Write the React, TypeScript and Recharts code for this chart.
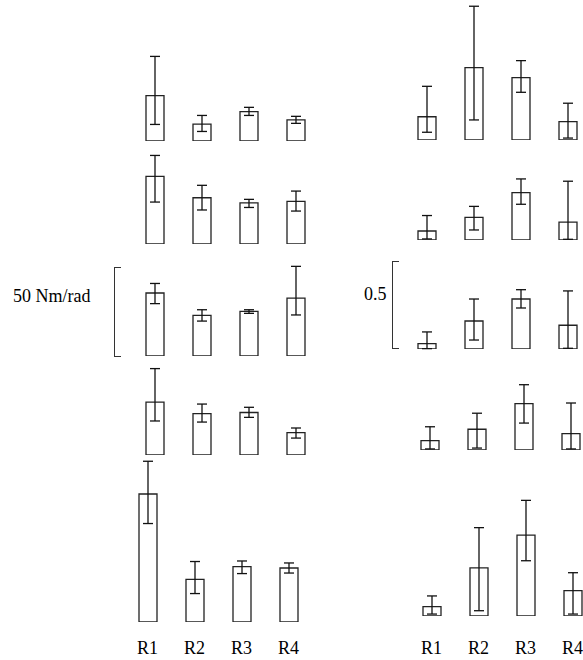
import React from 'react'
import { BarChart, Bar, XAxis, YAxis, ErrorBar } from 'recharts'

const categories = ['R1', 'R2', 'R3', 'R4']

// left panel: stiffness in Nm/rad, rows top to bottom
const leftMean = [
  [25.2, 9.4, 16.3, 11.7],
  [37.6, 25.7, 22.8, 23.7],
  [35.0, 22.6, 24.8, 32.2],
  [29.4, 23.0, 23.6, 12.4],
  [71.1, 23.7, 30.8, 30.0],
]
const leftLow = [
  [9.2, 5.3, 14.2, 9.8],
  [23.3, 18.9, 20.3, 18.3],
  [29.1, 19.4, 23.7, 22.8],
  [18.9, 18.3, 20.9, 9.4],
  [54.7, 15.8, 26.9, 27.2],
]
const leftHigh = [
  [47.0, 14.2, 18.7, 13.7],
  [49.2, 32.6, 24.8, 29.4],
  [40.3, 25.7, 25.7, 49.8],
  [48.0, 28.3, 26.5, 15.0],
  [89.3, 33.6, 33.9, 32.8],
]

// right panel: dimensionless, rows top to bottom
const rightMean = [
  [0.132, 0.411, 0.354, 0.104],
  [0.051, 0.129, 0.269, 0.101],
  [0.030, 0.159, 0.284, 0.135],
  [0.053, 0.118, 0.263, 0.093],
  [0.053, 0.274, 0.459, 0.144],
]
const rightLow = [
  [0.044, 0.114, 0.271, 0.011],
  [0.006, 0.057, 0.203, 0.004],
  [0.002, 0.051, 0.233, 0.004],
  [0.006, 0.011, 0.153, 0.006],
  [0.011, 0.030, 0.314, 0.011],
]
const rightHigh = [
  [0.305, 0.760, 0.451, 0.209],
  [0.139, 0.191, 0.347, 0.334],
  [0.097, 0.284, 0.337, 0.330],
  [0.132, 0.209, 0.371, 0.267],
  [0.114, 0.502, 0.657, 0.246],
]

const leftScaleValue = 50
const rightScaleValue = 0.5

// layout
const PLOT_H = 170
const AXIS_H = 60
const CHART_W = 188
const LEFT_PX = 1.8 // px per Nm/rad
const RIGHT_PX = 176 // px per unit
const leftBaselines = [141, 244, 356, 455, 622]
const leftX = [131, 131, 131, 131, 124]
const rightBaselines = [140, 240, 349, 450, 616]
const rightX = [402.5, 402.5, 402.5, 406, 408]

const FONT = '"Liberation Serif", "Times New Roman", serif'

function rowData(mean: number[], low: number[], high: number[]) {
  return categories.map((name, i) => ({
    name,
    value: mean[i],
    err: [mean[i] - low[i], high[i] - mean[i]],
  }))
}

function SmallBars({ data, left, baseline, pxPerUnit, showTicks, tickMargin }: any) {
  return (
    <div style={{ position: 'absolute', left, top: baseline - PLOT_H }}>
      <BarChart width={CHART_W} height={PLOT_H + AXIS_H} data={data} margin={{ top: 0, right: 0, bottom: 0, left: 0 }}>
        <XAxis
          dataKey="name"
          axisLine={false}
          tickLine={false}
          height={AXIS_H}
          interval={0}
          tickMargin={tickMargin}
          tick={showTicks ? { fontSize: 18, fill: '#000', fontFamily: FONT } : false}
        />
        <YAxis hide domain={[0, PLOT_H / pxPerUnit]} allowDataOverflow />
        <Bar dataKey="value" fill="#fff" stroke="#222" strokeWidth={1.3} barSize={18} isAnimationActive={false}>
          <ErrorBar dataKey="err" width={5} stroke="#111" strokeWidth={1.3} isAnimationActive={false} />
        </Bar>
      </BarChart>
    </div>
  )
}

function Bracket({ left, baseline, height }: any) {
  return (
    <div
      style={{
        position: 'absolute',
        left,
        top: baseline - height,
        width: 7,
        height,
        borderLeft: '1.3px solid #333',
        borderTop: '1.3px solid #333',
        borderBottom: '1.3px solid #333',
        boxSizing: 'border-box',
      }}
    />
  )
}

export default function App() {
  return (
    <div style={{ position: 'fixed', left: 0, top: 0, width: 583, height: 660, background: '#fff', fontFamily: FONT, overflow: 'hidden' }}>
      {leftMean.map((m, r) => (
        <SmallBars
          key={'l' + r}
          data={rowData(m, leftLow[r], leftHigh[r])}
          left={leftX[r]}
          baseline={leftBaselines[r]}
          pxPerUnit={LEFT_PX}
          showTicks={r === 4}
          tickMargin={13}
        />
      ))}
      {rightMean.map((m, r) => (
        <SmallBars
          key={'r' + r}
          data={rowData(m, rightLow[r], rightHigh[r])}
          left={rightX[r]}
          baseline={rightBaselines[r]}
          pxPerUnit={RIGHT_PX}
          showTicks={r === 4}
          tickMargin={19}
        />
      ))}

      <Bracket left={114} baseline={leftBaselines[2] + 1} height={leftScaleValue * LEFT_PX} />
      <div style={{ position: 'absolute', left: 13, top: 286, fontSize: 18, color: '#000' }}>
        {leftScaleValue} Nm/rad
      </div>

      <Bracket left={392} baseline={rightBaselines[2]} height={rightScaleValue * RIGHT_PX} />
      <div style={{ position: 'absolute', left: 364, top: 284, fontSize: 18, color: '#000' }}>
        {rightScaleValue}
      </div>
    </div>
  )
}
